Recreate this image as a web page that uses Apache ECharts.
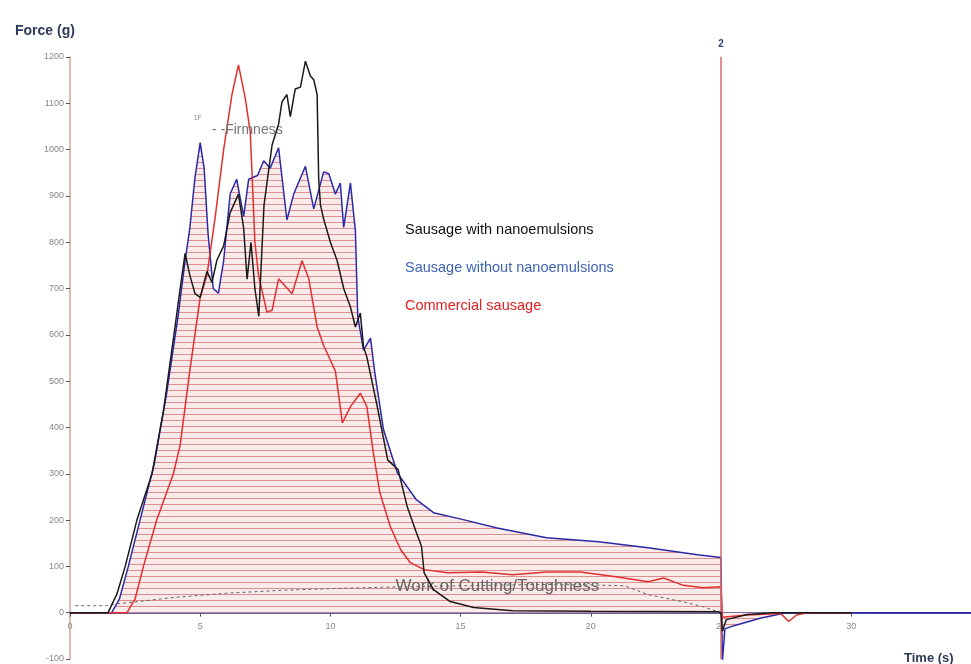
<!DOCTYPE html>
<html>
<head>
<meta charset="utf-8">
<script src="https://cdn.jsdelivr.net/npm/echarts@6/dist/echarts.min.js"></script>
<style>
  html, body { margin: 0; padding: 0; background: #fff; }
  #main { width: 971px; height: 664px; }
</style>
</head>
<body>
<div id="main"></div>
<script>
// texture profile curves, time (s) / force (g)
var blueT = [0, 1.6, 1.9, 2.24, 2.69, 3.23, 3.7, 4.15, 4.42, 4.6, 4.8, 5.0, 5.15, 5.3, 5.5, 5.7, 5.9, 6.15, 6.4, 6.67, 6.86, 7.2, 7.44, 7.69, 8.01, 8.33, 8.59, 9.04, 9.36, 9.74, 9.94, 10.19, 10.38, 10.51, 10.77, 10.96, 11.05, 11.27, 11.54, 11.7, 12.04, 12.57, 13.3, 13.96, 15.1, 16.4, 18.3, 20.3, 22.2, 24.1, 25.0, 25.05, 25.15, 25.5, 26, 26.5, 27, 27.5, 30, 34.6]
var blueF = [0, 0, 30, 100, 200, 320, 470, 640, 760, 830, 940, 1015, 960, 820, 700, 690, 760, 904, 936, 856, 936, 944, 976, 960, 1004, 848, 904, 964, 872, 952, 948, 904, 928, 832, 928, 824, 640, 567, 593, 520, 395, 302, 244, 216, 201, 183, 162, 153, 140, 125, 119, -108, -35, -28, -20, -12, -6, 0, 0, 0]

var blackT = [0, 1.46, 1.8, 2.12, 2.57, 3.15, 3.6, 4.04, 4.23, 4.42, 4.6, 4.8, 5.0, 5.26, 5.45, 5.64, 5.9, 6.15, 6.47, 6.67, 6.8, 6.95, 7.1, 7.25, 7.45, 7.76, 8.01, 8.14, 8.33, 8.46, 8.65, 8.85, 9.04, 9.23, 9.36, 9.49, 9.55, 9.62, 9.74, 10.0, 10.26, 10.51, 10.77, 10.96, 11.15, 11.27, 11.4, 11.8, 12.2, 12.6, 12.95, 13.3, 13.5, 13.6, 13.96, 14.6, 15.5, 17.0, 20, 24.9, 25.0, 25.05, 25.2, 26, 27, 30]
var blackF = [0, 0, 40, 100, 200, 300, 440, 620, 700, 776, 729, 689, 681, 737, 713, 761, 792, 864, 904, 830, 720, 800, 700, 640, 880, 1010, 1055, 1103, 1119, 1071, 1131, 1135, 1191, 1159, 1151, 1119, 936, 880, 850, 800, 760, 700, 660, 617, 647, 574, 552, 445, 330, 309, 229, 173, 143, 86, 50, 24, 11, 4, 3, 2, 0, -40, -15, -4, 0, 0]

var redT = [0, 2.19, 2.5, 2.82, 3.33, 3.97, 4.23, 4.6, 5.0, 5.26, 5.58, 5.9, 6.22, 6.47, 6.73, 6.92, 7.0, 7.1, 7.24, 7.56, 7.76, 8.01, 8.27, 8.53, 8.91, 9.17, 9.49, 9.74, 10.06, 10.19, 10.46, 10.77, 11.15, 11.4, 11.65, 11.9, 12.3, 12.7, 13.07, 13.6, 14.5, 15.8, 17.0, 18.3, 19.6, 20.9, 22.2, 22.8, 23.5, 24.3, 25.0, 25.05, 26, 27.3, 27.6, 27.9, 28.3, 30]
var redF = [0, 0, 30, 100, 200, 300, 362, 522, 681, 729, 856, 1000, 1119, 1183, 1111, 1039, 936, 800, 729, 649, 653, 721, 705, 689, 760, 721, 617, 577, 538, 522, 410, 445, 474, 445, 345, 259, 186, 136, 108, 93, 86, 88, 82, 88, 88, 78, 67, 75, 60, 54, 56, -10, -5, -2, -19, -5, 0, 0]

// work of cutting (dashed)
var workT = [0.2, 1.4, 1.6, 2.6, 4, 6, 8, 10, 12, 14, 16, 18, 20, 21.3, 22.2, 23.5, 24.3, 25]
var workF = [15, 15, 18, 24, 33, 42, 48, 52, 55, 57, 59, 61, 60, 58, 39, 24, 13, 0]

var names = ['Sausage with nanoemulsions', 'Sausage without nanoemulsions', 'Commercial sausage']

function pairs(t, f) {
  var out = []
  for (var i = 0; i < t.length; i++) out.push([t[i], f[i]])
  return out
}

// horizontal hatch texture for the area
var hatch = document.createElement('canvas')
hatch.width = 4
hatch.height = 6
var hctx = hatch.getContext('2d')
hctx.fillStyle = '#fbeaea'
hctx.fillRect(0, 0, 4, 6)
hctx.fillStyle = '#d99090'
hctx.fillRect(0, 0, 4, 1)

var font = 'Liberation Sans, Arial, sans-serif'
var chart = echarts.init(document.getElementById('main'))

chart.setOption({
  animation: false,
  textStyle: { fontFamily: font },
  title: [
    { text: 'Force (g)', left: 10, top: 19, textStyle: { fontSize: 14, fontWeight: 'bold', color: '#2d3a5c' } },
    { text: 'Time (s)', left: 899, top: 647, textStyle: { fontSize: 13, fontWeight: 'bold', color: '#2d3a5c' } }
  ],
  legend: {
    orient: 'vertical',
    left: 394,
    top: 217,
    itemWidth: 0,
    itemHeight: 0,
    itemGap: 23,
    selectedMode: false,
    textStyle: { fontSize: 14.5, fontFamily: font },
    data: [
      { name: names[0], textStyle: { color: '#111' } },
      { name: names[1], textStyle: { color: '#3f63b5' } },
      { name: names[2], textStyle: { color: '#e02020' } }
    ]
  },
  grid: { left: 70, right: 0, top: 57, bottom: 5, containLabel: false, outerBoundsMode: 'none' },
  xAxis: {
    type: 'value',
    min: 0,
    max: 34.6,
    interval: 5,
    axisLine: { onZero: true, lineStyle: { color: '#2b2f8a', width: 1.5 } },
    axisTick: { length: 4, lineStyle: { color: '#555' } },
    axisLabel: { fontSize: 9, color: '#888', margin: -37, showMaxLabel: false },
    splitLine: { show: false }
  },
  yAxis: {
    type: 'value',
    min: -100,
    max: 1200,
    interval: 100,
    axisLine: { show: true, onZero: false, lineStyle: { color: '#dca0a0', width: 1.5 } },
    axisTick: { show: true, length: 4, lineStyle: { color: '#555' } },
    axisLabel: { fontSize: 9, color: '#888', margin: 6, formatter: function (v) { return String(v) } },
    splitLine: { show: false }
  },
  series: [
    {
      name: names[1],
      type: 'line',
      data: pairs(blueT, blueF),
      showSymbol: false,
      lineStyle: { color: '#2a2aa8', width: 1.5 },
      itemStyle: { color: '#2a2aa8' },
      areaStyle: { color: { image: hatch, repeat: 'repeat' }, opacity: 1 },
      z: 2,
      markPoint: {
        symbol: 'circle',
        symbolSize: 0,
        silent: true,
        data: [
          { coord: [4.75, 1068], label: { show: true, position: 'right', distance: 0, formatter: '1F', fontSize: 7, color: '#888' } },
          { coord: [5.45, 1042], label: { show: true, position: 'right', distance: 0, formatter: '- -Firmness', fontSize: 14, color: '#777' } },
          { coord: [12.5, 56], label: { show: true, position: 'right', distance: 0, formatter: 'Work of Cutting/Toughness', fontSize: 17, color: '#666' } }
        ]
      },
      markLine: {
        symbol: 'none',
        silent: true,
        lineStyle: { color: '#d46a6a', width: 1.5, type: 'solid' },
        label: { show: true, position: 'end', formatter: '2', color: '#2d3a7c', fontWeight: 'bold', fontSize: 10, distance: 8 },
        data: [{ xAxis: 25 }]
      }
    },
    {
      name: 'work',
      type: 'line',
      data: pairs(workT, workF),
      showSymbol: false,
      lineStyle: { color: '#666', width: 1, type: [3, 3] },
      z: 3
    },
    {
      name: names[2],
      type: 'line',
      data: pairs(redT, redF),
      showSymbol: false,
      lineStyle: { color: '#e03030', width: 1.5 },
      itemStyle: { color: '#e03030' },
      z: 4
    },
    {
      name: names[0],
      type: 'line',
      data: pairs(blackT, blackF),
      showSymbol: false,
      lineStyle: { color: '#1a1a1a', width: 1.5 },
      itemStyle: { color: '#1a1a1a' },
      z: 5
    }
  ]
})
</script>
</body>
</html>
